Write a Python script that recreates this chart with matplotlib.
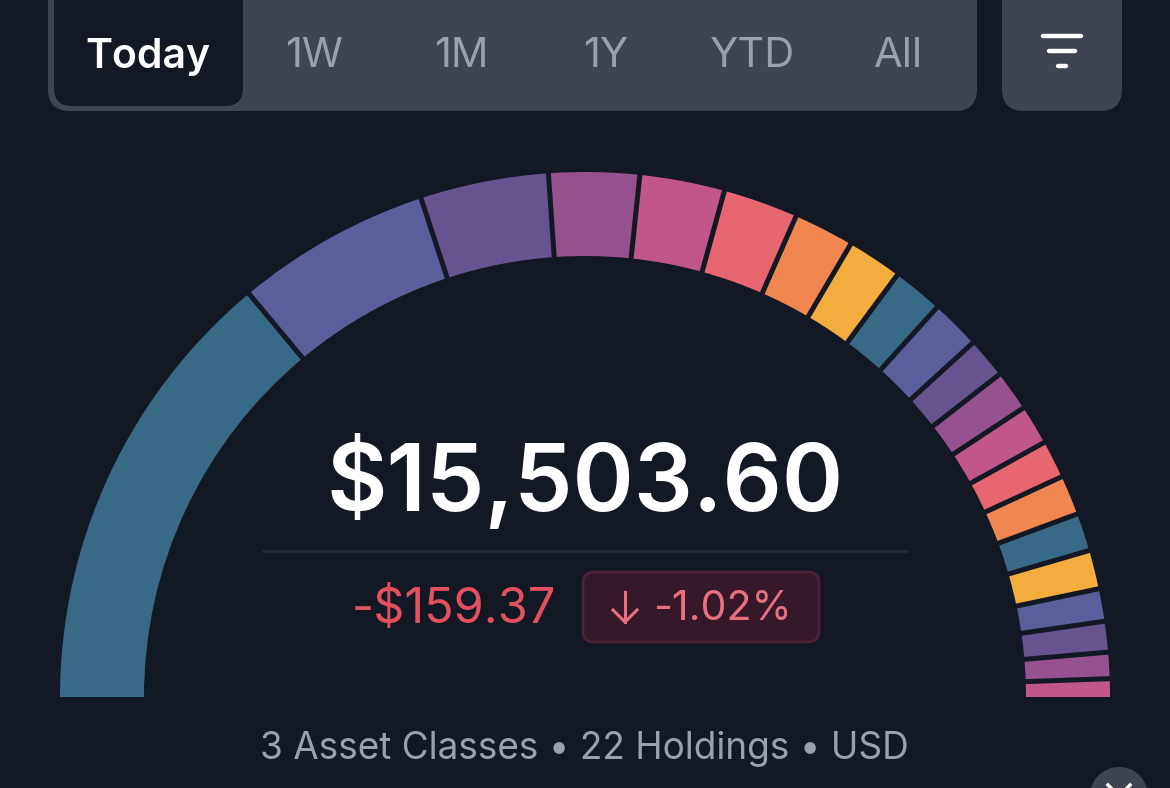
import matplotlib
matplotlib.use('Agg')
import matplotlib.pyplot as plt
from matplotlib.patches import Wedge, FancyBboxPatch, Circle
import numpy as np

# arc share of each holding, in degrees of the half circle
spans = [50.2, 21.6, 14.2, 10.0, 9.4, 8.3, 6.7, 6.1, 5.6, 5.5, 4.5,
         4.5, 4.4, 4.2, 4.4, 4.2, 4.3, 3.6, 3.4, 2.9, 2.0]
colors = ['#386987', '#5A5E9B', '#675390', '#96528F', '#C15788', '#E86670', '#F18651',
          '#F3AC3D', '#386987', '#5A5E9B', '#675390', '#96528F', '#C15788', '#E86670',
          '#F18651', '#386987', '#F3AC3D', '#5A5E9B', '#675390', '#96528F', '#C15788']
tabs = ['1W', '1M', '1Y', 'YTD', 'All']
tab_x = [314, 461, 606, 753, 898]

total = '$15,503.60'
change = '-$159.37'
change_pct = '-1.02%'
summary = '3 Asset Classes • 22 Holdings • USD'

BG = '#121824'
PANEL = '#3E4451'
plt.rcParams['font.family'] = ['Inter', 'DejaVu Sans']

fig = plt.figure(figsize=(11.7, 7.88), dpi=100, facecolor=BG)
ax = fig.add_axes([0, 0, 1, 1])
ax.set_xlim(0, 1170)
ax.set_ylim(788, 0)
ax.axis('off')


def box(x0, y0, x1, y1, r, fc, ec='none', lw=0):
    p = FancyBboxPatch((x0 + r, y0 + r), x1 - x0 - 2 * r, y1 - y0 - 2 * r,
                       boxstyle=f'round,pad={r},rounding_size={r}',
                       fc=fc, ec=ec, lw=lw)
    ax.add_patch(p)


# top tab bar
box(48, -30, 977, 111, 22, PANEL)
box(54, -30, 243, 106, 18, BG)
box(1002, -30, 1122, 111, 22, PANEL)
ax.text(148, 57, 'Today', color='white', fontsize=29.5, fontweight='semibold',
        ha='center', va='center')
for label, x in zip(tabs, tab_x):
    ax.text(x, 56, label, color='#9AA0AE', fontsize=30, fontweight='normal',
            ha='center', va='center')
for y, x0, x1 in [(36, 1043, 1081), (51, 1049, 1075), (66, 1058, 1066)]:
    ax.plot([x0, x1], [y, y], color='white', lw=3.2, solid_capstyle='round')

# gauge: y axis is flipped so angles run clockwise from the left end
cx, cy, r_out, r_in = 585, 697, 525, 441
angle = 180.0
edges = []
for span, c in zip(spans, colors):
    ax.add_patch(Wedge((cx, cy), r_out, angle, angle + span, width=r_out - r_in, fc=c, ec='none'))
    angle += span
    edges.append(angle)
for a in edges[:-1]:
    t = np.radians(a)
    ax.plot([cx + (r_in - 3) * np.cos(t), cx + (r_out + 3) * np.cos(t)],
            [cy + (r_in - 3) * np.sin(t), cy + (r_out + 3) * np.sin(t)],
            color=BG, lw=3.6, solid_capstyle='butt')

# centre figures
ax.text(585, 482, total, color='white', fontsize=67, fontweight='semibold',
        ha='center', va='center')
ax.plot([263, 906], [551, 551], color='#272C39', lw=1.8)
ax.text(453.5, 610, change, color='#E5505F', fontsize=35, ha='center', va='center')
box(583, 572, 819, 642, 11, '#35192B', ec='#4D2236', lw=2)
ax.plot([625, 625], [592, 622], color='#E9707F', lw=2.2)
ax.plot([613, 625, 637], [610, 622, 610], color='#E9707F', lw=2.2)
ax.text(723, 609, change_pct, color='#E9707F', fontsize=29.5, ha='center', va='center')

ax.text(584, 749, summary, color='#9AA0AE', fontsize=26.6, ha='center', va='center')

# corner scroll button, cut off by the picture edge
ax.add_patch(Circle((1119, 796), 29, fc=PANEL, ec='none'))
ax.plot([1108, 1119, 1130], [785, 796, 785], color='white', lw=2.4)

fig.savefig('out.png', dpi=100, facecolor=BG)
